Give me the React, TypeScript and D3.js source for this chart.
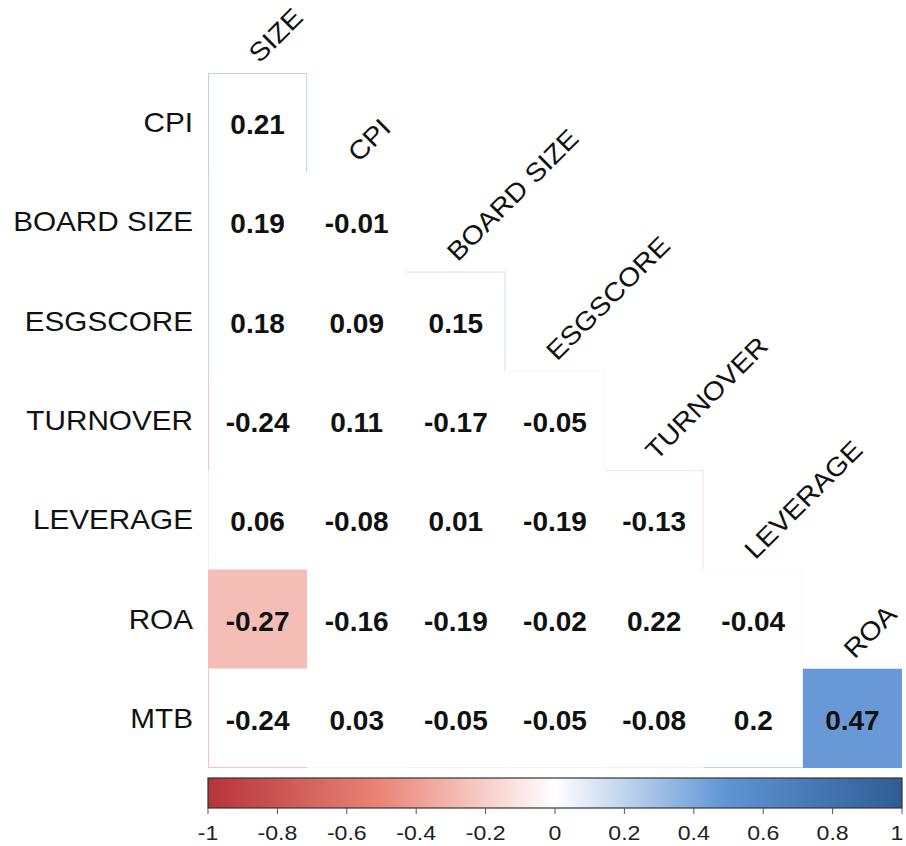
import React from "react";
import * as d3 from "d3";

// Variables shown on the rows (lower triangle) and on the columns
const rowVars = ["CPI", "BOARD SIZE", "ESGSCORE", "TURNOVER", "LEVERAGE", "ROA", "MTB"];
const colVars = ["SIZE", "CPI", "BOARD SIZE", "ESGSCORE", "TURNOVER", "LEVERAGE", "ROA"];

// Lower-triangular correlation coefficients, one array per row
const corrCPI = [0.21];
const corrBoardSize = [0.19, -0.01];
const corrEsgScore = [0.18, 0.09, 0.15];
const corrTurnover = [-0.24, 0.11, -0.17, -0.05];
const corrLeverage = [0.06, -0.08, 0.01, -0.19, -0.13];
const corrROA = [-0.27, -0.16, -0.19, -0.02, 0.22, -0.04];
const corrMTB = [-0.24, 0.03, -0.05, -0.05, -0.08, 0.2, 0.47];
const corrRows = [corrCPI, corrBoardSize, corrEsgScore, corrTurnover, corrLeverage, corrROA, corrMTB];

// Pairs that are statistically significant (drawn filled)
const significantPairs = [
  ["ROA", "SIZE"],
  ["MTB", "ROA"],
];

// Colour bar tick values
const legendTicks = [-1, -0.8, -0.6, -0.4, -0.2, 0, 0.2, 0.4, 0.6, 0.8, 1];

const paletteStops = [-1, -0.5, 0, 0.5, 1];
const paletteColors = ["#B5343A", "#EA8577", "#FFFFFF", "#5E93D3", "#305C94"];

const W = 906;
const H = 846;
const FONT = "'Liberation Sans', Arial, Helvetica, sans-serif";
const STRETCH = 1.1;

type Cell = { r: number; c: number; row: string; col: string; value: number; sig: boolean };

export default function App() {
  const x = d3.scaleBand<string>().domain(colVars).range([208, 902]);
  const y = d3.scaleBand<string>().domain(rowVars).range([73, 768]);
  const color = d3.scaleLinear<string>().domain(paletteStops).range(paletteColors).interpolate(d3.interpolateRgb);
  const bw = x.bandwidth();
  const bh = y.bandwidth();

  const cells: Cell[] = [];
  corrRows.forEach((vals, r) => {
    vals.forEach((value, c) => {
      const row = rowVars[r];
      const col = colVars[c];
      const sig = significantPairs.some(([a, b]) => a === row && b === col);
      cells.push({ r, c, row, col, value, sig });
    });
  });
  const inTri = (r: number, c: number) => r >= 0 && r < rowVars.length && c >= 0 && c <= r;

  // Outline segments along the outer boundary of each blank (non-significant) cell
  const edges: { x1: number; y1: number; x2: number; y2: number; stroke: string; key: string }[] = [];
  cells.forEach((d) => {
    if (d.sig) return;
    const x0 = x(d.col)!;
    const y0 = y(d.row)!;
    const st = color(d.value);
    if (!inTri(d.r - 1, d.c)) edges.push({ x1: x0, y1: y0 + 0.5, x2: x0 + bw, y2: y0 + 0.5, stroke: st, key: `t${d.r}-${d.c}` });
    if (!inTri(d.r + 1, d.c)) edges.push({ x1: x0, y1: y0 + bh - 0.5, x2: x0 + bw, y2: y0 + bh - 0.5, stroke: st, key: `b${d.r}-${d.c}` });
    if (!inTri(d.r, d.c - 1)) edges.push({ x1: x0 + 0.5, y1: y0, x2: x0 + 0.5, y2: y0 + bh, stroke: st, key: `l${d.r}-${d.c}` });
    if (!inTri(d.r, d.c + 1)) edges.push({ x1: x0 + bw - 0.5, y1: y0, x2: x0 + bw - 0.5, y2: y0 + bh, stroke: st, key: `r${d.r}-${d.c}` });
  });

  // Colour bar
  const lx = d3.scaleLinear().domain([-1, 1]).range([208, 902]);
  const barTop = 778;
  const barH = 30;
  const gradStops = d3.range(0, 1.0001, 0.05).map((t) => ({ offset: t, col: color(-1 + 2 * t) }));

  return (
    <svg width={W} height={H} style={{ position: "absolute", left: 0, top: 0, background: "#fff" }}>
      <defs>
        <linearGradient id="corrGrad" x1="0" x2="1" y1="0" y2="0">
          {gradStops.map((s, i) => (
            <stop key={i} offset={s.offset} stopColor={s.col} />
          ))}
        </linearGradient>
      </defs>
      <rect width={W} height={H} fill="#fff" />

      {/* cells */}
      {cells.map((d) => (
        <rect
          key={`c${d.r}-${d.c}`}
          x={x(d.col)}
          y={y(d.row)}
          width={bw}
          height={bh}
          fill={d.sig ? color(d.value) : "#fff"}
        />
      ))}
      {edges.map((e) => (
        <line key={e.key} x1={e.x1} y1={e.y1} x2={e.x2} y2={e.y2} stroke={e.stroke} strokeWidth={1} />
      ))}

      {/* coefficient labels */}
      {cells.map((d) => (
        <text
          key={`v${d.r}-${d.c}`}
          x={x(d.col)! + bw / 2}
          y={y(d.row)! + bh / 2 + 2}
          textAnchor="middle"
          dominantBaseline="central"
          fontFamily={FONT}
          fontWeight="bold"
          fontSize={28}
          fill="#111"
        >
          {String(+d.value.toFixed(2))}
        </text>
      ))}

      {/* row labels */}
      {rowVars.map((v) => (
        <text
          key={`rl${v}`}
          transform={`translate(193,${y(v)! + bh / 2}) scale(${STRETCH},1)`}
          textAnchor="end"
          dominantBaseline="central"
          fontFamily={FONT}
          fontSize={27}
          fill="#111"
        >
          {v}
        </text>
      ))}

      {/* column labels, rotated */}
      {colVars.map((v, c) => {
        const firstRow = rowVars[c];
        const px = x(v)! + bw / 2 + 2;
        const py = y(firstRow)! - 9;
        return (
          <text
            key={`cl${v}`}
            transform={`translate(${px},${py}) rotate(-45) scale(${STRETCH},1)`}
            fontFamily={FONT}
            fontSize={26}
            fill="#111"
          >
            {v}
          </text>
        );
      })}

      {/* colour legend */}
      <rect x={lx(-1)} y={barTop} width={lx(1) - lx(-1)} height={barH} fill="url(#corrGrad)" stroke="#333" strokeWidth={1.2} />
      {legendTicks.map((t) => (
        <g key={`lt${t}`}>
          <line x1={lx(t)} x2={lx(t)} y1={barTop + barH} y2={barTop + barH + 6} stroke="#555" strokeWidth={1} />
          <text
            transform={`translate(${Math.min(lx(t), W - 9)},${barTop + barH + 25}) scale(${STRETCH},1)`}
            textAnchor="middle"
            dominantBaseline="central"
            fontFamily={FONT}
            fontSize={21}
            fill="#222"
          >
            {String(t)}
          </text>
        </g>
      ))}
    </svg>
  );
}
